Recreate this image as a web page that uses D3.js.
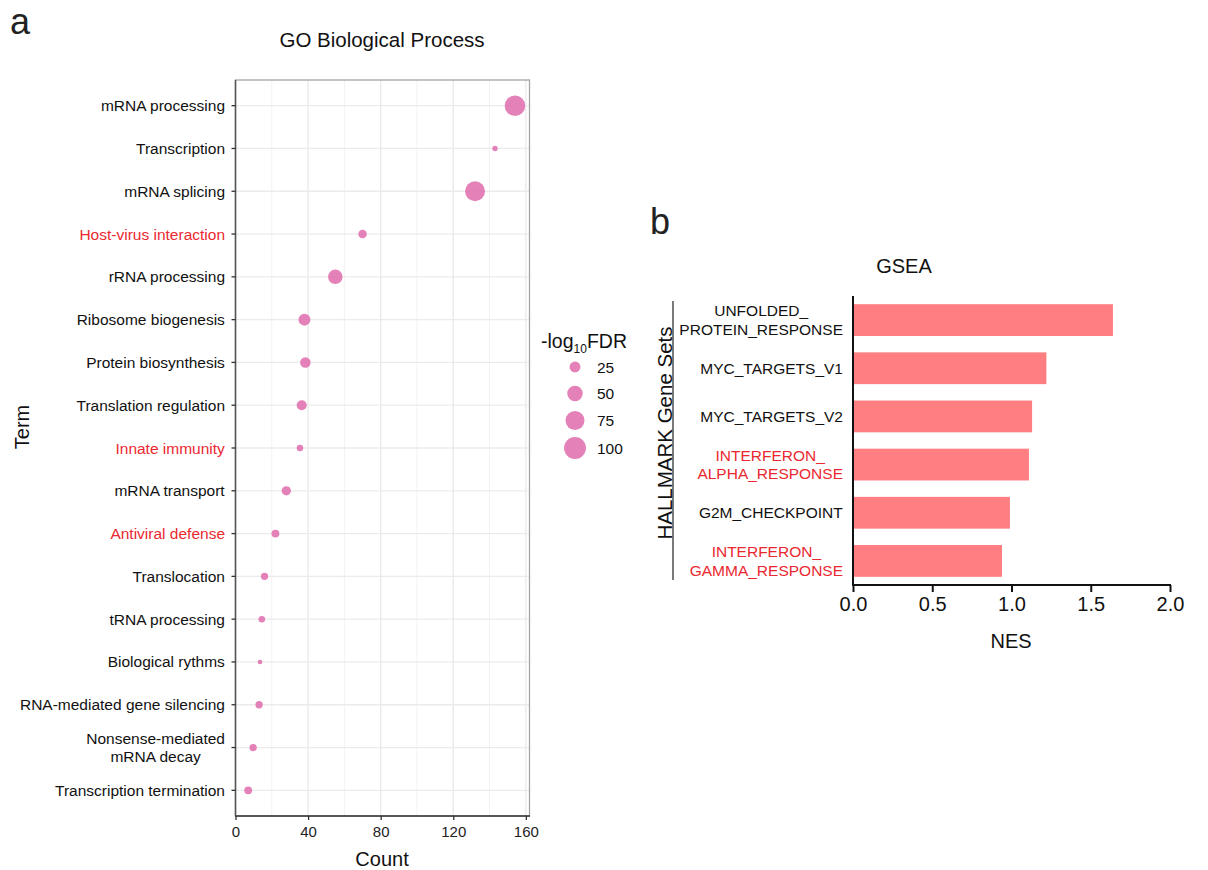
<!DOCTYPE html>
<html>
<head>
<meta charset="utf-8">
<script src="https://cdn.jsdelivr.net/npm/d3@7"></script>
<style>
  body { margin: 0; background: #fff; }
  svg { font-family: "Liberation Sans", Arial, sans-serif; }
</style>
</head>
<body>
<script>
'use strict';

// Panel a: GO Biological Process
const TERMS = [
    'mRNA processing', 'Transcription', 'mRNA splicing', 'Host-virus interaction',
    'rRNA processing', 'Ribosome biogenesis', 'Protein biosynthesis', 'Translation regulation',
    'Innate immunity', 'mRNA transport', 'Antiviral defense', 'Translocation',
    'tRNA processing', 'Biological rythms', 'RNA-mediated gene silencing',
    'Nonsense-mediated\nmRNA decay', 'Transcription termination'
];
const COUNTS = [154, 143, 132, 70, 55, 38, 38.5, 36.5, 35.5, 28, 22, 16, 14.5, 13.5, 13, 9.7, 7];
const LOG_FDR = [88, 6, 83, 15, 44, 30, 23, 21, 9, 18, 13, 11, 9, 4.5, 11, 11, 13];
const RED_TERMS = ['Host-virus interaction', 'Innate immunity', 'Antiviral defense'];
const COUNT_TICKS = [0, 40, 80, 120, 160];
const SIZE_BREAKS = [25, 50, 75, 100];

// Panel b: GSEA
const GENE_SETS = [
    'UNFOLDED_\nPROTEIN_RESPONSE', 'MYC_TARGETS_V1', 'MYC_TARGETS_V2',
    'INTERFERON_\nALPHA_RESPONSE', 'G2M_CHECKPOINT', 'INTERFERON_\nGAMMA_RESPONSE'
];
const NES = [1.64, 1.22, 1.13, 1.11, 0.99, 0.94];
const RED_SETS = ['INTERFERON_\nALPHA_RESPONSE', 'INTERFERON_\nGAMMA_RESPONSE'];
const NES_TICKS = [0, 0.5, 1.0, 1.5, 2.0];

const WIDTH = 1208;
const HEIGHT = 870;

const DOT_COLOR = '#e070ae';
const BAR_COLOR = '#fe7e82';
const RED_TEXT = '#ea2830';
const AXIS_COLOR = '#333';
const LINE_HEIGHT = 18.5;
const LABEL_SIZE = 15.5;

// Writes a (possibly two-line) label whose lines are centred on each other,
// with the block's right edge at rightX.
function blockLabel(g, text, rightX, centerY, fill, size) {
    let lines = text.split('\n');
    let label = g.append('text')
            .attr('text-anchor', 'middle')
            .attr('font-size', size)
            .attr('fill', fill);
    let firstBaseline = centerY + 5.5 - (lines.length - 1) * LINE_HEIGHT / 2;
    lines.forEach(function(line, i) {
        label.append('tspan')
                .attr('x', 0)
                .attr('y', firstBaseline + i * LINE_HEIGHT)
                .text(line);
    });
    let w = label.node().getBBox().width;
    label.selectAll('tspan').attr('x', rightX - w / 2);
}

function main() {
    let svg = d3.select('body')
            .append('svg')
            .attr('width', WIDTH)
            .attr('height', HEIGHT);

    // ---------- panel a ----------
    const PLOT_A = {left: 235.5, right: 529.5, top: 80, bottom: 816};

    let x = d3.scaleLinear()
            .domain([0, 162])
            .range([PLOT_A.left, PLOT_A.right]);

    let y = d3.scalePoint()
            .domain(TERMS)
            .range([PLOT_A.top, PLOT_A.bottom])
            .padding(0.6);

    let r = d3.scaleSqrt()
            .domain([0, 120])
            .range([0, 12]);

    svg.append('text')
            .attr('x', 10)
            .attr('y', 34)
            .attr('font-size', 36)
            .attr('fill', '#222')
            .text('a');

    svg.append('text')
            .attr('x', 382)
            .attr('y', 47)
            .attr('text-anchor', 'middle')
            .attr('font-size', 20.5)
            .attr('fill', '#111')
            .text('GO Biological Process');

    let gridA = svg.append('g');

    // minor vertical grid lines
    gridA.selectAll('.minor')
            .data([20, 60, 100, 140])
            .enter()
            .append('line')
            .attr('x1', d => x(d)).attr('x2', d => x(d))
            .attr('y1', PLOT_A.top).attr('y2', PLOT_A.bottom)
            .attr('stroke', '#f2f2f2')
            .attr('stroke-width', 1);

    gridA.selectAll('.major')
            .data(COUNT_TICKS)
            .enter()
            .append('line')
            .attr('x1', d => x(d)).attr('x2', d => x(d))
            .attr('y1', PLOT_A.top).attr('y2', PLOT_A.bottom)
            .attr('stroke', '#e9e9e9')
            .attr('stroke-width', 1.3);

    gridA.selectAll('.hgrid')
            .data(TERMS)
            .enter()
            .append('line')
            .attr('x1', PLOT_A.left).attr('x2', PLOT_A.right)
            .attr('y1', d => y(d)).attr('y2', d => y(d))
            .attr('stroke', '#ebebeb')
            .attr('stroke-width', 1.3);

    // panel border
    svg.append('rect')
            .attr('x', PLOT_A.left)
            .attr('y', PLOT_A.top)
            .attr('width', PLOT_A.right - PLOT_A.left)
            .attr('height', PLOT_A.bottom - PLOT_A.top)
            .attr('fill', 'none')
            .attr('stroke', '#a5a5a5')
            .attr('stroke-width', 1.3);

    // dots
    svg.append('g')
            .selectAll('circle')
            .data(TERMS)
            .enter()
            .append('circle')
            .attr('cx', (d, i) => x(COUNTS[i]))
            .attr('cy', d => y(d))
            .attr('r', (d, i) => r(LOG_FDR[i]))
            .attr('fill', DOT_COLOR)
            .attr('fill-opacity', 0.88);

    // x axis
    let xAxisA = svg.append('g')
            .attr('transform', `translate(0,${PLOT_A.bottom})`)
            .call(d3.axisBottom(x).tickValues(COUNT_TICKS).tickSize(4).tickSizeOuter(0).tickPadding(6));
    xAxisA.select('.domain').remove();
    xAxisA.append('line')
            .attr('x1', PLOT_A.left - 0.5).attr('x2', PLOT_A.right + 0.5)
            .attr('stroke', AXIS_COLOR).attr('stroke-width', 1.5);
    xAxisA.selectAll('.tick line').attr('stroke', AXIS_COLOR).attr('stroke-width', 1.3);
    xAxisA.selectAll('.tick text')
            .attr('font-size', 15)
            .attr('font-family', '"Liberation Sans", Arial, sans-serif')
            .attr('fill', '#222');

    svg.append('text')
            .attr('x', 382)
            .attr('y', 866)
            .attr('text-anchor', 'middle')
            .attr('font-size', 20)
            .attr('fill', '#111')
            .text('Count');

    // y axis
    let yAxisA = svg.append('g');
    yAxisA.append('line')
            .attr('x1', PLOT_A.left).attr('x2', PLOT_A.left)
            .attr('y1', PLOT_A.top).attr('y2', PLOT_A.bottom)
            .attr('stroke', '#555').attr('stroke-width', 1.5);
    yAxisA.selectAll('.tick')
            .data(TERMS)
            .enter()
            .append('line')
            .attr('x1', PLOT_A.left - 4).attr('x2', PLOT_A.left)
            .attr('y1', d => y(d)).attr('y2', d => y(d))
            .attr('stroke', AXIS_COLOR).attr('stroke-width', 1.3);
    TERMS.forEach(function(term) {
        let fill = RED_TERMS.includes(term) ? RED_TEXT : '#111';
        blockLabel(yAxisA, term, 225, y(term), fill, LABEL_SIZE);
    });

    svg.append('text')
            .attr('transform', 'translate(29,427) rotate(-90)')
            .attr('text-anchor', 'middle')
            .attr('font-size', 20)
            .attr('fill', '#111')
            .text('Term');

    // size legend
    let legend = svg.append('g');
    let title = legend.append('text')
            .attr('x', 541)
            .attr('y', 348)
            .attr('font-size', 19.5)
            .attr('fill', '#111');
    title.append('tspan').text('-log');
    title.append('tspan').attr('font-size', 12).attr('dy', 5).text('10');
    title.append('tspan').attr('dy', -5).text('FDR');

    const LEGEND_Y = [367, 393.5, 420.5, 448];
    SIZE_BREAKS.forEach(function(v, i) {
        legend.append('circle')
                .attr('cx', 575)
                .attr('cy', LEGEND_Y[i])
                .attr('r', r(v))
                .attr('fill', DOT_COLOR)
                .attr('fill-opacity', 0.88);
        legend.append('text')
                .attr('x', 597)
                .attr('y', LEGEND_Y[i] + 5.5)
                .attr('font-size', 15.5)
                .attr('fill', '#111')
                .text(v);
    });

    // ---------- panel b ----------
    const PLOT_B = {left: 853, right: 1170, top: 296, bottom: 585};

    let xb = d3.scaleLinear()
            .domain([0, 2])
            .range([PLOT_B.left, PLOT_B.right]);

    let yb = d3.scaleBand()
            .domain(GENE_SETS)
            .range([PLOT_B.top, PLOT_B.bottom])
            .paddingInner(0.34)
            .paddingOuter(0.17);

    svg.append('text')
            .attr('x', 650)
            .attr('y', 234)
            .attr('font-size', 36)
            .attr('fill', '#222')
            .text('b');

    svg.append('text')
            .attr('x', 904)
            .attr('y', 273)
            .attr('text-anchor', 'middle')
            .attr('font-size', 20)
            .attr('fill', '#111')
            .text('GSEA');

    svg.append('g')
            .selectAll('rect')
            .data(GENE_SETS)
            .enter()
            .append('rect')
            .attr('x', xb(0))
            .attr('y', d => yb(d))
            .attr('width', (d, i) => xb(NES[i]) - xb(0))
            .attr('height', yb.bandwidth())
            .attr('fill', BAR_COLOR);

    let xAxisB = svg.append('g')
            .attr('transform', `translate(0,${PLOT_B.bottom})`)
            .call(d3.axisBottom(xb).tickValues(NES_TICKS).tickFormat(d3.format('.1f'))
                    .tickSize(7).tickSizeOuter(0).tickPadding(5));
    xAxisB.select('.domain').remove();
    xAxisB.append('line')
            .attr('x1', PLOT_B.left - 1).attr('x2', PLOT_B.right + 1)
            .attr('stroke', '#111').attr('stroke-width', 2);
    xAxisB.selectAll('.tick line').attr('stroke', '#111').attr('stroke-width', 2);
    xAxisB.selectAll('.tick text')
            .attr('font-size', 20)
            .attr('font-family', '"Liberation Sans", Arial, sans-serif')
            .attr('fill', '#111');

    svg.append('text')
            .attr('x', 1011)
            .attr('y', 648)
            .attr('text-anchor', 'middle')
            .attr('font-size', 20)
            .attr('fill', '#111')
            .text('NES');

    let yAxisB = svg.append('g');
    yAxisB.append('line')
            .attr('x1', PLOT_B.left).attr('x2', PLOT_B.left)
            .attr('y1', PLOT_B.top).attr('y2', PLOT_B.bottom + 1)
            .attr('stroke', '#111').attr('stroke-width', 2);
    GENE_SETS.forEach(function(set) {
        let fill = RED_SETS.includes(set) ? RED_TEXT : '#111';
        blockLabel(yAxisB, set, 843, yb(set) + yb.bandwidth() / 2, fill, LABEL_SIZE);
    });

    // bracket line and group title
    svg.append('line')
            .attr('x1', 673).attr('x2', 673)
            .attr('y1', 301).attr('y2', 580)
            .attr('stroke', '#333').attr('stroke-width', 1.3);
    svg.append('text')
            .attr('transform', 'translate(672,433) rotate(-90)')
            .attr('text-anchor', 'middle')
            .attr('font-size', 20.5)
            .attr('fill', '#111')
            .text('HALLMARK Gene Sets');
}

document.addEventListener('DOMContentLoaded', function(event) {
    main();
});
</script>
</body>
</html>
